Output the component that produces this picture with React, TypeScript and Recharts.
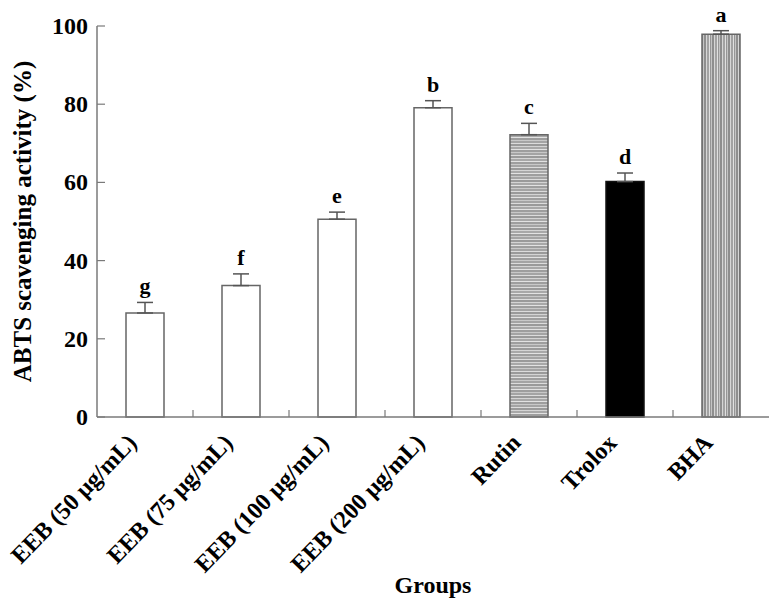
import React from 'react';
import { BarChart, Bar, XAxis, YAxis, ErrorBar, Cell, LabelList, Label, ReferenceLine } from 'recharts';

const categories = ['EEB (50 μg/mL)', 'EEB (75 μg/mL)', 'EEB (100 μg/mL)', 'EEB (200 μg/mL)', 'Rutin', 'Trolox', 'BHA'];
const values = [26.6, 33.6, 50.6, 79.1, 72.2, 60.2, 97.9];
const errors = [2.7, 3.0, 1.8, 1.8, 2.9, 2.2, 0.9];
const letters = ['g', 'f', 'e', 'b', 'c', 'd', 'a'];
const fills = ['#ffffff', '#ffffff', '#ffffff', '#ffffff', 'url(#hstripe)', '#000000', 'url(#vstripe)'];
const strokes = ['#666666', '#666666', '#666666', '#666666', '#666666', '#111111', '#666666'];
const yTicks = [0, 20, 40, 60, 80, 100];

const data = categories.map((name, i) => ({
  name,
  value: values[i],
  err: [0, errors[i]],
  top: errors[i],
  letter: letters[i],
}));

const FONT = "'Liberation Serif', 'Times New Roman', serif";
const AXIS = '#7a7a7a';

const YTick = (props: any) => {
  const { x, y, payload } = props;
  return (
    <g>
      <line x1={x + 9} x2={x + 17} y1={y} y2={y} stroke={AXIS} strokeWidth={1.2} />
      <text x={x} y={y} textAnchor="end" dominantBaseline="central" fontFamily={FONT} fontWeight="bold" fontSize={24} fill="#000">
        {payload.value}
      </text>
    </g>
  );
};

const XTick = (props: any) => {
  const { x, y, payload } = props;
  const ax = x - 7;
  const ay = y + 27;
  return (
    <text
      x={ax}
      y={ay}
      textAnchor="end"
      transform={`rotate(-46, ${ax}, ${ay})`}
      fontFamily={FONT}
      fontWeight="bold"
      fontSize={24}
      fill="#000"
    >
      {payload.value}
    </text>
  );
};

const BoundaryTick = (props: any) => {
  const { x1, y1, y2 } = props;
  const base = Math.max(y1, y2);
  return <line x1={x1} x2={x1} y1={base} y2={base - 7} stroke={AXIS} strokeWidth={1.2} />;
};

const YLabel = (props: any) => {
  const { viewBox } = props;
  const cx = viewBox.x + 22;
  const cy = viewBox.y + viewBox.height / 2;
  return (
    <text x={cx} y={cy} textAnchor="middle" dominantBaseline="central" transform={`rotate(-90, ${cx}, ${cy})`}
      fontFamily={FONT} fontWeight="bold" fontSize={25} fill="#000">
      ABTS scavenging activity (%)
    </text>
  );
};

export default function App() {
  return (
    <div style={{ position: 'absolute', left: 0, top: 0, width: 773, height: 601, background: '#fff' }}>
      <svg width={0} height={0} style={{ position: 'absolute' }}>
        <defs>
          <pattern id="hstripe" patternUnits="userSpaceOnUse" width={8} height={12}>
            <rect x={0} y={0} width={8} height={2} fill="#9a9a9a" />
            <rect x={0} y={2} width={8} height={1} fill="#d4d4d4" />
            <rect x={0} y={3} width={8} height={2} fill="#a8a8a8" />
            <rect x={0} y={5} width={8} height={1} fill="#e2e2e2" />
            <rect x={0} y={6} width={8} height={2} fill="#9e9e9e" />
            <rect x={0} y={8} width={8} height={1} fill="#c8c8c8" />
            <rect x={0} y={9} width={8} height={2} fill="#a4a4a4" />
            <rect x={0} y={11} width={8} height={1} fill="#dcdcdc" />
          </pattern>
          <pattern id="vstripe" patternUnits="userSpaceOnUse" width={8} height={8}>
            <rect x={0} y={0} width={2} height={8} fill="#8e8e8e" />
            <rect x={2} y={0} width={1} height={8} fill="#d6d6d6" />
            <rect x={3} y={0} width={2} height={8} fill="#a2a2a2" />
            <rect x={5} y={0} width={1} height={8} fill="#e0e0e0" />
            <rect x={6} y={0} width={1} height={8} fill="#969696" />
            <rect x={7} y={0} width={1} height={8} fill="#c4c4c4" />
          </pattern>
        </defs>
      </svg>
      <BarChart width={773} height={601} data={data} margin={{ top: 26, right: 4, left: 0, bottom: 0 }}>
        <XAxis
          dataKey="name"
          height={184}
          interval={0}
          tickSize={0}
          tickMargin={0}
          tick={<XTick />}
          axisLine={{ stroke: AXIS, strokeWidth: 1.5 }}
          tickLine={false}
        >
          <Label value="Groups" position="insideBottom" offset={8} fontFamily={FONT} fontWeight="bold" fontSize={24} fill="#000" />
        </XAxis>
        <YAxis
          width={97}
          domain={[0, 100]}
          ticks={yTicks}
          interval={0}
          tickSize={0}
          tickMargin={9}
          tick={<YTick />}
          tickLine={false}
          axisLine={{ stroke: AXIS, strokeWidth: 1.5 }}
        >
          <Label content={<YLabel />} />
        </YAxis>
        {categories.slice(0, categories.length - 1).map((c) => (
          <ReferenceLine key={c} x={c} position="end" shape={<BoundaryTick />} ifOverflow="visible" />
        ))}
        <Bar dataKey="value" stackId="s" barSize={38} isAnimationActive={false} strokeWidth={1.5}>
          {data.map((d, i) => (
            <Cell key={d.name} fill={fills[i]} stroke={strokes[i]} />
          ))}
          <ErrorBar dataKey="err" width={8} stroke="#555555" strokeWidth={1.5} direction="y" />
        </Bar>
        <Bar dataKey="top" stackId="s" barSize={38} fill="transparent" stroke="none" isAnimationActive={false}>
          <LabelList dataKey="letter" position="top" offset={9} fontFamily={FONT} fontWeight="bold" fontSize={22} fill="#000" />
        </Bar>
      </BarChart>
    </div>
  );
}
